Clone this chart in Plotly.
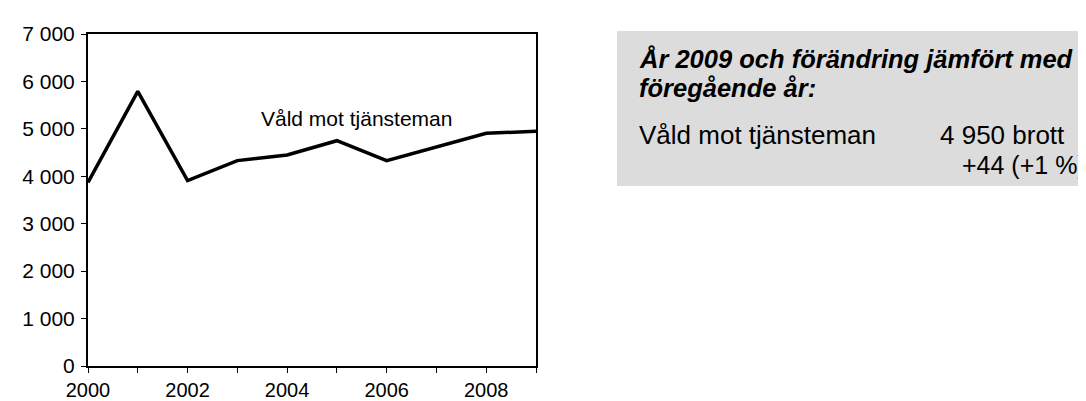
import plotly.graph_objects as go

years = [2000, 2001, 2002, 2003, 2004, 2005, 2006, 2007, 2008, 2009]
vald_mot_tjansteman = [3870, 5790, 3910, 4330, 4450, 4750, 4330, 4620, 4906, 4950]

y_tickvals = [0, 1000, 2000, 3000, 4000, 5000, 6000, 7000]
y_ticktext = ["0", "1 000", "2 000", "3 000", "4 000", "5 000", "6 000", "7 000"]
x_tickvals = years
x_ticktext = ["2000", "", "2002", "", "2004", "", "2006", "", "2008", ""]

series_label = "Våld mot tjänsteman"
box_title_1 = "År 2009 och förändring jämfört med"
box_title_2 = "föregående år:"
box_name = "Våld mot tjänsteman"
box_value = "4 950 brott"
box_change = "+44 (+1 %)"

FONT = "Liberation Sans, Arial, sans-serif"

fig = go.Figure()
fig.add_trace(go.Scatter(
    x=years, y=vald_mot_tjansteman, mode="lines",
    line=dict(color="black", width=3.5), showlegend=False, hoverinfo="skip",
))

L, R, T, B = 80, 528, 26, 358
W, H = 1086, 401
def px(x):
    return (x - L) / (R - L)
def py(y):
    return (B - y) / (B - T)

fig.update_layout(
    width=W, height=H,
    margin=dict(l=L, r=W - R, t=T, b=H - B, pad=0, autoexpand=False),
    paper_bgcolor="white", plot_bgcolor="white",
    font=dict(family=FONT, color="black", size=20),
    xaxis=dict(
        range=[2000, 2009], tickvals=x_tickvals, ticktext=x_ticktext,
        showgrid=False, zeroline=False, showline=True, linecolor="black", linewidth=2,
        mirror=True, ticks="outside", ticklen=5, tickwidth=1, tickcolor="black",
        tickfont=dict(size=20, family=FONT), ticklabelstandoff=0, automargin=False,
    ),
    yaxis=dict(
        range=[0, 7000], tickvals=y_tickvals, ticktext=y_ticktext,
        showgrid=False, zeroline=False, showline=True, linecolor="black", linewidth=2,
        mirror=True, ticks="outside", ticklen=5, tickwidth=1, tickcolor="black",
        tickfont=dict(size=21, family=FONT), ticklabelstandoff=2, automargin=False,
    ),
)

fig.add_shape(type="rect", xref="paper", yref="paper",
              x0=px(609), x1=px(1100), y0=py(178), y1=py(23),
              fillcolor="#DCDCDC", line=dict(width=0), layer="below")

def ann(text, x, y, size, bold_italic=False):
    t = f"<b><i>{text}</i></b>" if bold_italic else text
    fig.add_annotation(text=t, xref="paper", yref="paper", x=px(x), y=py(y),
                       xanchor="left", yanchor="middle", showarrow=False,
                       borderpad=0, borderwidth=0,
                       font=dict(size=size, family=FONT, color="black"))

ann(series_label, 253, 110, 21)
ann(box_title_1, 631, 51, 25.5, True)
ann(box_title_2, 631, 80, 25.5, True)
ann(box_name, 631, 127, 26)
ann(box_value, 932, 127, 26)
ann(box_change, 954, 157, 25)

fig.write_html("out.html")
